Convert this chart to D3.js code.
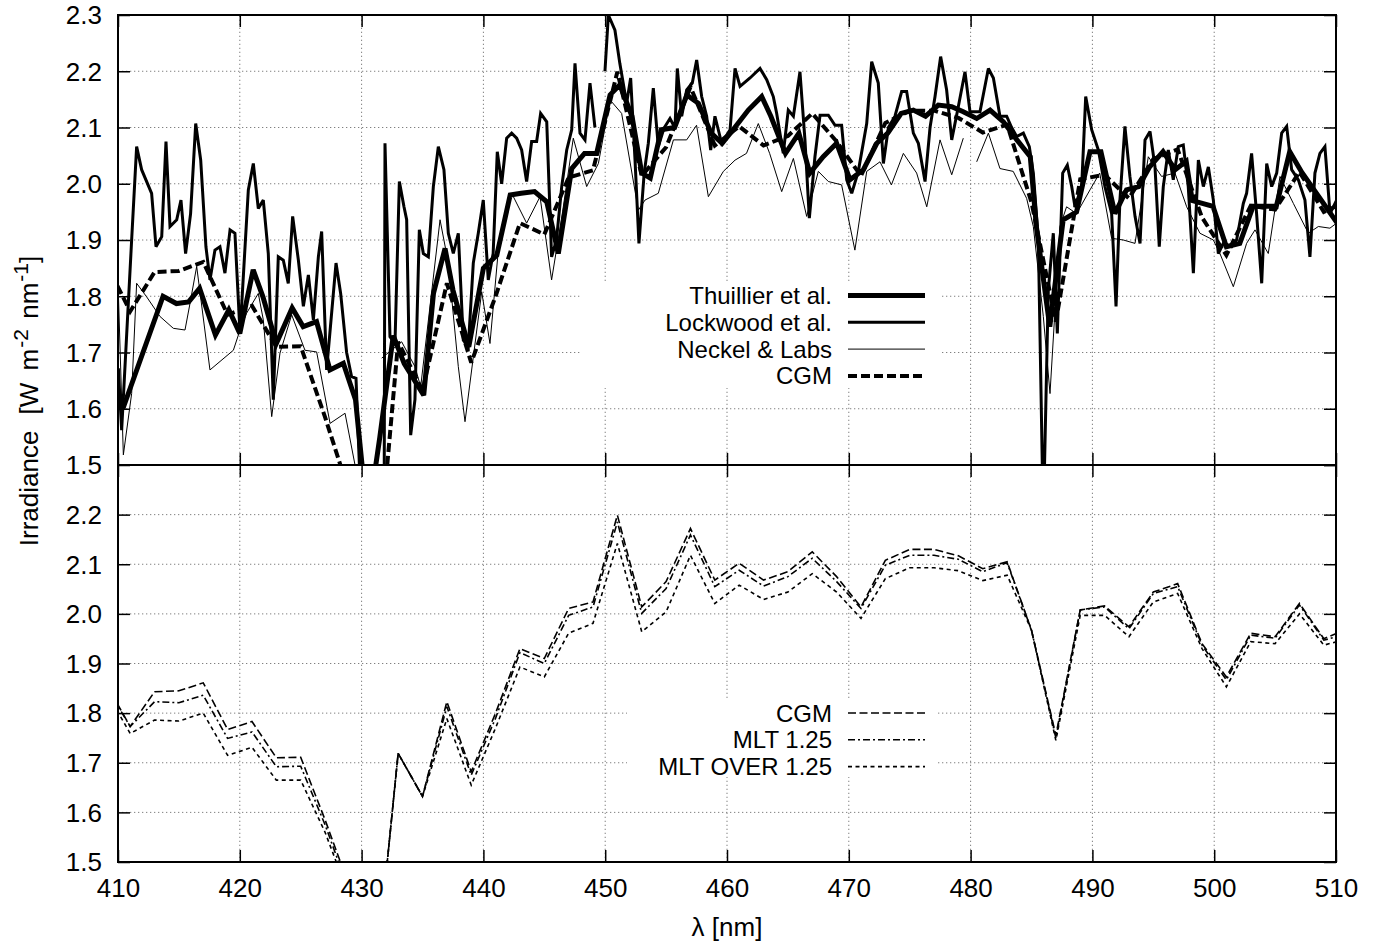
<!DOCTYPE html>
<html>
<head>
<meta charset="utf-8">
<script src="https://cdn.jsdelivr.net/npm/d3@7"></script>
<style>
  body { margin: 0; background: #fff; }
  svg { display: block; font-family: "Liberation Sans", Arial, Helvetica, sans-serif; }
</style>
</head>
<body>
<script>
// ---- data (wavelength in nm, irradiance in W m-2 nm-1) ----
var thuillierNm = [410.0, 410.4, 413.7, 414.8, 415.8, 416.7, 418.0, 419.1, 420.0, 421.1, 421.9, 423.0, 424.3, 425.2, 426.3, 427.4, 428.5, 429.5, 430.5, 431.5, 432.6, 433.5, 434.5, 435.1, 435.9, 436.85, 437.5, 438.8, 440.0, 441.1, 442.2, 443.1, 444.2, 445.2, 446.15, 447.25, 448.3, 449.3, 450.4, 451.2, 452.2, 453.0, 453.7, 454.6, 455.7, 456.7, 457.65, 458.7, 459.6, 460.5, 461.75, 462.85, 463.6, 464.8, 465.9, 466.8, 467.9, 469.0, 470.1, 471.2, 472.3, 473.2, 474.3, 475.3, 476.3, 477.35, 478.45, 479.4, 480.5, 481.6, 482.7, 483.8, 484.9, 485.4, 486.5, 487.6, 488.7, 489.8, 490.7, 491.85, 492.8, 493.8, 494.7, 495.8, 496.8, 497.7, 498.2, 499.9, 501.0, 502.1, 503.2, 504.0, 505.1, 506.2, 507.2, 510.1];
var thuillierVal = [1.63, 1.60, 1.80, 1.787, 1.79, 1.814, 1.731, 1.776, 1.734, 1.847, 1.799, 1.716, 1.779, 1.746, 1.755, 1.669, 1.681, 1.616, 1.40, 1.55, 1.73, 1.68, 1.645, 1.624, 1.805, 1.885, 1.811, 1.71, 1.85, 1.873, 1.98, 1.983, 1.986, 1.968, 1.876, 2.027, 2.054, 2.054, 2.158, 2.176, 2.12, 2.019, 2.01, 2.096, 2.10, 2.158, 2.143, 2.09, 2.072, 2.096, 2.131, 2.155, 2.12, 2.054, 2.09, 2.019, 2.048, 2.072, 2.007, 2.025, 2.072, 2.09, 2.125, 2.131, 2.12, 2.14, 2.137, 2.128, 2.116, 2.131, 2.11, 2.078, 2.048, 1.924, 1.746, 1.936, 1.95, 2.057, 2.057, 1.947, 1.989, 1.995, 2.03, 2.057, 2.025, 2.04, 1.97, 1.96, 1.888, 1.894, 1.96, 1.96, 1.96, 2.057, 2.02, 1.93];

var lockwoodNm = [410.03, 410.3, 411.12, 411.53, 411.94, 412.76, 413.12, 413.59, 413.94, 414.27, 414.82, 415.17, 415.55, 415.96, 416.38, 416.79, 417.22, 417.55, 417.96, 418.37, 418.78, 419.2, 419.6, 420.02, 420.7, 421.11, 421.52, 421.93, 422.34, 422.75, 423.16, 423.57, 423.98, 424.34, 424.81, 425.22, 425.63, 426.04, 426.45, 426.72, 427.13, 427.9, 428.28, 428.77, 429.18, 429.54, 430.0, 431.85, 431.92, 432.33, 432.74, 433.1, 433.48, 433.7, 434.03, 434.38, 434.74, 435.07, 435.48, 435.89, 436.3, 436.76, 437.12, 437.53, 437.94, 438.35, 438.76, 439.17, 439.58, 439.99, 440.4, 440.8, 441.14, 441.5, 441.91, 442.32, 442.73, 443.14, 443.55, 443.96, 444.37, 444.7, 445.2, 445.6, 446.0, 446.43, 446.84, 447.25, 447.52, 447.93, 448.34, 448.75, 449.16, 449.6, 449.98, 450.26, 450.8, 451.2, 451.76, 452.09, 452.45, 452.77, 453.2, 453.54, 453.95, 454.36, 454.83, 455.32, 455.73, 455.92, 456.28, 456.69, 457.15, 457.51, 457.92, 458.33, 458.66, 459.01, 459.56, 460.25, 460.66, 461.07, 461.89, 462.71, 463.26, 463.8, 464.08, 464.62, 465.03, 465.45, 465.99, 466.4, 466.76, 467.22, 467.64, 468.32, 468.87, 469.41, 469.83, 470.24, 470.78, 471.47, 471.88, 472.42, 472.84, 473.25, 473.79, 474.34, 474.75, 475.3, 475.71, 476.26, 476.67, 477.08, 477.54, 478.03, 478.45, 478.99, 479.54, 479.95, 480.77, 481.46, 481.87, 482.41, 482.96, 483.37, 483.78, 484.33, 484.82, 485.15, 485.56, 485.97, 486.38, 486.79, 487.12, 487.56, 487.94, 488.3, 488.57, 489.12, 489.45, 489.94, 490.49, 491.03, 491.58, 491.94, 492.26, 492.67, 493.08, 493.5, 493.91, 494.32, 494.73, 495.14, 495.49, 495.82, 496.23, 496.64, 497.05, 497.46, 497.87, 498.29, 498.7, 499.11, 499.52, 499.93, 500.34, 500.75, 501.43, 501.84, 502.39, 502.66, 503.07, 503.48, 503.9, 504.31, 504.72, 505.13, 505.54, 505.95, 506.36, 506.91, 507.45, 507.86, 508.27, 508.68, 509.09, 509.51, 510.05];
var lockwoodVal = [1.672, 1.562, 1.90, 2.066, 2.025, 1.983, 1.888, 1.906, 2.075, 1.924, 1.936, 1.971, 1.876, 1.947, 2.107, 2.042, 1.888, 1.829, 1.882, 1.888, 1.841, 1.918, 1.912, 1.734, 1.989, 2.036, 1.956, 1.971, 1.876, 1.616, 1.87, 1.864, 1.823, 1.942, 1.864, 1.782, 1.838, 1.758, 1.87, 1.915, 1.669, 1.859, 1.805, 1.70, 1.657, 1.654, 1.40, 1.40, 2.072, 1.728, 1.716, 2.004, 1.959, 1.936, 1.553, 1.616, 1.918, 1.876, 1.87, 1.995, 2.066, 2.025, 1.912, 1.876, 1.912, 1.722, 1.71, 1.859, 1.912, 1.971, 1.829, 1.876, 2.057, 2.0, 2.081, 2.09, 2.081, 2.06, 2.004, 2.075, 2.075, 2.125, 2.11, 1.87, 1.90, 1.995, 2.06, 2.096, 2.214, 2.09, 2.078, 2.179, 2.10, null, 2.20, 2.30, 2.273, 2.214, 2.143, 2.188, 2.042, 1.894, 2.019, 2.072, 2.17, 2.066, 2.099, 2.116, 2.099, 2.205, 2.12, 2.167, 2.179, 2.22, 2.155, 2.12, 2.06, 2.12, 2.072, 2.096, 2.205, 2.173, 2.188, 2.205, 2.185, 2.155, 2.125, 2.054, 2.131, 2.12, 2.199, 2.078, 1.939, 2.048, 2.122, 2.122, 2.104, 2.104, 2.007, 1.983, 2.022, 2.107, 2.217, 2.179, 2.036, 2.10, 2.12, 2.164, 2.164, 2.09, 2.072, 2.004, 2.10, 2.155, 2.226, 2.167, 2.078, 2.137, 2.199, 2.128, 2.128, 2.205, 2.188, 2.12, 2.12, 2.10, 2.084, 2.09, 2.066, 2.019, 1.90, 1.40, 1.811, 1.912, 1.734, 2.019, 2.033, 1.995, 1.959, 1.995, 2.155, 2.096, 2.06, 1.995, 1.947, 1.782, 1.971, 2.102, 2.013, 1.942, 1.894, 2.078, 2.093, 2.03, 1.888, 1.995, 2.06, 2.007, 2.066, 2.069, 1.995, 1.841, 2.042, 1.995, 2.03, 1.971, 1.876, 1.894, 1.888, 1.90, 1.965, 1.983, 2.054, 1.947, 1.823, 2.036, 1.995, 2.019, 2.09, 2.102, 2.025, 2.007, 1.971, 1.87, 2.019, 2.054, 2.066, 1.947, 1.971];

var neckelNm = [410.03, 410.44, 411.12, 411.53, 412.35, 413.45, 414.54, 415.5, 415.91, 416.46, 417.55, 419.47, 420.02, 420.56, 421.52, 421.93, 422.62, 423.3, 424.26, 425.35, 426.31, 427.41, 428.64, 429.46, 429.8, 430.8, 431.65, 433.29, 434.38, 434.85, 436.44, 437.12, 437.94, 438.49, 439.86, 440.54, 441.3, 442.32, 443.55, 444.65, 445.6, 446.5, 447.38, 448.48, 449.44, 450.4, 451.35, 452.72, 453.27, 454.36, 455.6, 456.69, 457.5, 458.47, 459.7, 460.66, 461.6, 462.57, 463.5, 464.49, 465.45, 466.54, 467.5, 468.32, 469.41, 470.5, 471.47, 472.56, 473.5, 474.48, 475.57, 476.4, 477.49, 478.45, 479.4, 480.0, 480.5, 481.46, 482.41, 483.5, 484.6, 485.15, 485.97, 486.52, 487.34, 487.88, 488.7, 489.8, 490.6, 491.58, 492.54, 493.5, 494.59, 495.68, 496.78, 497.74, 498.83, 499.93, 500.47, 501.57, 502.66, 503.35, 504.44, 505.4, 506.5, 507.73, 508.55, 509.5, 510.05];
var neckelVal = [1.805, 1.518, 1.627, 1.823, 1.799, 1.764, 1.743, 1.74, 1.787, 1.853, 1.669, 1.704, 1.74, 1.77, 1.805, 1.758, 1.586, 1.699, 1.767, 1.704, 1.701, 1.574, 1.592, 1.50, 1.40, null, 1.69, 1.719, 1.675, 1.639, 1.936, 1.859, 1.675, 1.577, 1.808, 1.716, 1.90, 1.983, 1.93, 1.977, 1.829, 1.95, 2.081, 1.995, 2.036, 2.149, 2.125, 1.953, 1.971, 1.983, 2.078, 2.078, 2.104, 1.977, 2.022, 2.042, 2.054, 2.107, 2.054, 1.986, 2.045, 1.942, 2.022, 2.004, 1.998, 1.882, 2.022, 2.039, 1.998, 2.054, 2.019, 1.959, 2.078, 2.016, 2.081, null, 2.039, 2.09, 2.027, 2.022, 1.974, 1.924, 1.764, 1.627, 1.924, 1.959, 1.947, 1.989, 2.019, 1.903, 1.90, 1.894, 2.048, 2.013, 2.019, 1.959, 1.912, 1.90, 1.876, 1.817, 1.894, 1.918, 1.876, 2.013, 1.965, 1.912, 1.924, 1.921, 1.93];

// model grid (odd wavelengths)
var modelNm = [409, 411, 413, 415, 417, 419, 421, 423, 425, 427, 429, 431, 433, 435, 437, 439, 441, 443, 445, 447, 449, 451, 453, 455, 457, 459, 461, 463, 465, 467, 469, 471, 473, 475, 477, 479, 481, 483, 485, 487, 489, 491, 493, 495, 497, 499, 501, 503, 505, 507, 509, 511];
var cgmVal = [1.86, 1.773, 1.843, 1.845, 1.861, 1.767, 1.783, 1.71, 1.711, 1.585, 1.45, 1.23, 1.719, 1.632, 1.823, 1.682, 1.80, 1.93, 1.91, 2.011, 2.024, 2.199, 2.014, 2.065, 2.172, 2.068, 2.102, 2.068, 2.085, 2.125, 2.075, 2.014, 2.108, 2.13, 2.13, 2.117, 2.091, 2.105, 1.967, 1.755, 2.008, 2.016, 1.974, 2.044, 2.061, 1.94, 1.873, 1.961, 1.954, 2.021, 1.95, 1.97];
var mlt125Val = [1.855, 1.773, 1.823, 1.821, 1.836, 1.749, 1.762, 1.692, 1.693, 1.575, 1.44, 1.23, 1.719, 1.632, 1.813, 1.675, 1.79, 1.922, 1.90, 1.997, 2.014, 2.185, 2.001, 2.051, 2.159, 2.055, 2.088, 2.056, 2.075, 2.112, 2.065, 2.011, 2.098, 2.118, 2.118, 2.11, 2.085, 2.103, 1.967, 1.75, 2.008, 2.014, 1.97, 2.041, 2.055, 1.937, 1.867, 1.957, 1.951, 2.018, 1.947, 1.96];
var mltOver125Val = [1.845, 1.759, 1.786, 1.784, 1.80, 1.715, 1.731, 1.665, 1.665, 1.56, 1.43, 1.23, 1.719, 1.632, 1.789, 1.655, 1.77, 1.893, 1.873, 1.961, 1.981, 2.142, 1.964, 2.004, 2.118, 2.021, 2.058, 2.029, 2.044, 2.081, 2.044, 1.991, 2.071, 2.093, 2.093, 2.087, 2.067, 2.078, 1.967, 1.745, 1.997, 1.997, 1.954, 2.024, 2.041, 1.93, 1.853, 1.944, 1.94, 2.0, 1.937, 1.95];

var xTicks = [410, 420, 430, 440, 450, 460, 470, 480, 490, 500, 510];
var yTicksTop = [1.5, 1.6, 1.7, 1.8, 1.9, 2.0, 2.1, 2.2, 2.3];
var yTicksBottom = [1.5, 1.6, 1.7, 1.8, 1.9, 2.0, 2.1, 2.2];
var topLabels = ["Thuillier et al.", "Lockwood et al.", "Neckel & Labs", "CGM"];
var bottomLabels = ["CGM", "MLT 1.25", "MLT OVER 1.25"];

window.onload = function() {
    draw();
};

function draw() {
    var W = 1379, H = 946;
    var left = 118, right = 1336;
    var font = 26;
    var keyFont = 24;

    var svg = d3.select("body").append("svg").attr("width", W).attr("height", H);

    var x = d3.scaleLinear().domain([410, 510]).range([left, right]);
    var yTop = d3.scaleLinear().domain([1.5, 2.3]).range([465, 15]);
    var yBot = d3.scaleLinear().domain([1.5, 2.3]).range([862, 465]);

    // line styles (kept apart from the data)
    var topStyles = [
        { w: 5, dash: null },
        { w: 3, dash: null },
        { w: 1, dash: null },
        { w: 4, dash: "9,4" }
    ];
    var botStyles = [
        { w: 1.6, dash: "8,3.5" },
        { w: 1.6, dash: "7,3,2,3" },
        { w: 1.6, dash: "4,3.5" }
    ];

    var topSeries = [
        d3.zip(thuillierNm, thuillierVal),
        d3.zip(lockwoodNm, lockwoodVal),
        d3.zip(neckelNm, neckelVal),
        d3.zip(modelNm, cgmVal)
    ];
    var botSeries = [
        d3.zip(modelNm, cgmVal),
        d3.zip(modelNm, mlt125Val),
        d3.zip(modelNm, mltOver125Val)
    ];

    var defs = svg.append("defs");
    defs.append("clipPath").attr("id", "clipTop").append("rect")
        .attr("x", left).attr("y", yTop(2.3)).attr("width", right - left).attr("height", yTop(1.5) - yTop(2.3));
    defs.append("clipPath").attr("id", "clipBot").append("rect")
        .attr("x", left).attr("y", yBot(2.3)).attr("width", right - left).attr("height", yBot(1.5) - yBot(2.3));

    function panel(y, yTicks, series, styles, labels, clipId, keyBox, keyY, showX) {
        var g = svg.append("g");

        // dotted grid
        var grid = g.append("g").attr("stroke", "#808080").attr("stroke-width", 1)
            .attr("stroke-dasharray", "1.3,2.7");
        grid.selectAll(".gx").data(xTicks.slice(1, -1)).enter().append("line")
            .attr("x1", function(d) { return x(d); }).attr("x2", function(d) { return x(d); })
            .attr("y1", y(1.5)).attr("y2", y(2.3));
        grid.selectAll(".gy").data(yTicks.filter(function(d) { return d > 1.5 && d < 2.3; })).enter().append("line")
            .attr("x1", left).attr("x2", right)
            .attr("y1", function(d) { return y(d); }).attr("y2", function(d) { return y(d); });

        // key area hides the grid
        g.append("rect").attr("x", keyBox[0]).attr("y", keyBox[1])
            .attr("width", keyBox[2] - keyBox[0]).attr("height", keyBox[3] - keyBox[1])
            .attr("fill", "#fff");

        var line = d3.line()
            .defined(function(d) { return d[1] != null; })
            .x(function(d) { return x(d[0]); })
            .y(function(d) { return y(d[1]); });

        var lines = g.append("g").attr("clip-path", "url(#" + clipId + ")");
        series.forEach(function(s, i) {
            lines.append("path").datum(s)
                .attr("d", line)
                .attr("fill", "none")
                .attr("stroke", "#000")
                .attr("stroke-width", styles[i].w)
                .attr("stroke-dasharray", styles[i].dash)
                .attr("stroke-linejoin", "miter")
                .attr("stroke-miterlimit", 3);
        });

        // axes: ticks point inward on all four sides
        var axL = g.append("g").attr("transform", "translate(" + left + ",0)")
            .call(d3.axisLeft(y).tickValues(yTicks).tickSize(-12).tickPadding(16).tickFormat(d3.format(".1f")));
        var axR = g.append("g").attr("transform", "translate(" + right + ",0)")
            .call(d3.axisRight(y).tickValues(yTicksTop).tickSize(-12).tickFormat(""));
        var axT = g.append("g").attr("transform", "translate(0," + y(2.3) + ")")
            .call(d3.axisTop(x).tickValues(xTicks).tickSize(-12).tickFormat(""));
        var axB = g.append("g").attr("transform", "translate(0," + y(1.5) + ")")
            .call(d3.axisBottom(x).tickValues(xTicks).tickSize(-12).tickPadding(17)
                .tickFormat(showX ? d3.format("d") : ""));
        [axL, axR, axT, axB].forEach(function(a) {
            a.select(".domain").remove();
            a.selectAll("line").attr("stroke-width", 1.5);
            a.attr("font-size", font).attr("font-family", null);
            a.selectAll("text").attr("fill", "#000");
        });
        axL.selectAll("text").attr("dy", "0.34em");

        g.append("rect").attr("x", left).attr("y", y(2.3))
            .attr("width", right - left).attr("height", y(1.5) - y(2.3))
            .attr("fill", "none").attr("stroke", "#000").attr("stroke-width", 2);

        // legend
        var key = g.append("g");
        labels.forEach(function(lab, i) {
            var ly = keyY + i * 26.8;
            key.append("text").attr("x", 832).attr("y", ly + 8.5)
                .attr("text-anchor", "end").attr("font-size", keyFont).text(lab);
            key.append("line").attr("x1", 848).attr("x2", 925).attr("y1", ly).attr("y2", ly)
                .attr("stroke", "#000").attr("stroke-width", styles[i].w)
                .attr("stroke-dasharray", styles[i].dash);
        });
    }

    panel(yTop, yTicksTop, topSeries, topStyles, topLabels, "clipTop", [580, 283, 940, 388], 295.5, false);
    panel(yBot, yTicksBottom, botSeries, botStyles, bottomLabels, "clipBot", [627, 698, 938, 777], 713, true);

    // axis titles
    svg.append("text").attr("x", x(460)).attr("y", 936)
        .attr("text-anchor", "middle").attr("font-size", font).text("\u03bb [nm]");

    var yl = svg.append("text").attr("transform", "translate(38,401) rotate(-90)")
        .attr("text-anchor", "middle").attr("font-size", font);
    yl.append("tspan").text("Irradiance");
    yl.append("tspan").attr("dx", 9).text(" [W");
    yl.append("tspan").attr("dx", 5).text(" m");
    yl.append("tspan").attr("dy", -10).attr("dx", 1).attr("font-size", 21).text("-2");
    yl.append("tspan").attr("dy", 10).attr("dx", 3).text(" nm");
    yl.append("tspan").attr("dy", -10).attr("dx", 1).attr("font-size", 21).text("-1");
    yl.append("tspan").attr("dy", 10).text("]");
}
</script>
</body>
</html>
